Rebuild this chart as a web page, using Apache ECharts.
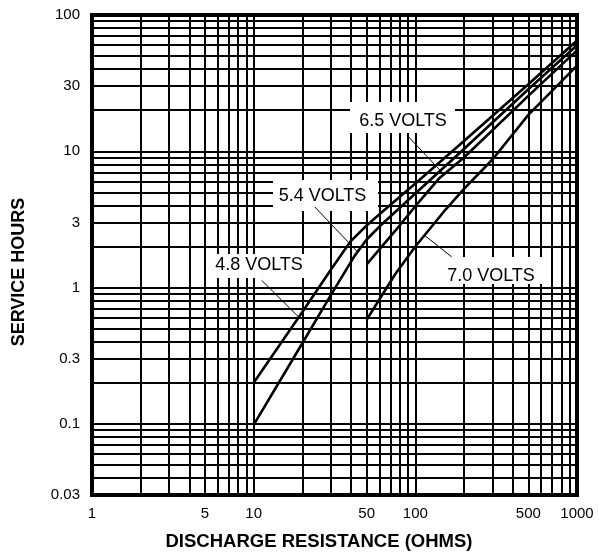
<!DOCTYPE html>
<html><head><meta charset="utf-8">
<script src="https://cdn.jsdelivr.net/npm/echarts@6/dist/echarts.min.js"></script>
<style>html,body{margin:0;padding:0;background:#fff}#c{width:599px;height:553px}</style>
</head><body><div id="c"></div>
<script>
const xTickLabels = [1, 5, 10, 50, 100, 500, 1000];
const yTickLabels = [0.03, 0.1, 0.3, 1, 3, 10, 30, 100];
const xGridValues = [1,2,3,4,5,6,7,8,9,10,20,30,40,50,60,70,80,90,100,200,300,400,500,600,700,800,900,1000];
const yGridValues = [0.03,0.04,0.05,0.06,0.07,0.08,0.09,0.1,0.2,0.3,0.4,0.5,0.6,0.7,0.8,0.9,1,2,3,4,5,6,7,8,9,10,20,30,40,50,60,70,80,90,100];

const seriesNames = ['4.8 VOLTS', '5.4 VOLTS', '6.5 VOLTS', '7.0 VOLTS'];
const r48 = [10, 20, 30, 40, 50, 60, 100, 200, 500, 1000];
const h48 = [0.2, 0.66, 1.35, 2.2, 2.85, 3.45, 5.8, 11.9, 31, 65];
const r54 = [10, 20, 30, 42, 50, 60, 100, 170, 500, 1000];
const h54 = [0.098, 0.39, 0.88, 1.7, 2.25, 2.8, 4.9, 8.7, 28.5, 60];
const r65 = [50, 75, 100, 140, 200, 500, 1000];
const h65 = [1.48, 2.6, 3.95, 6.3, 9.0, 25.5, 55];
const r70 = [50, 75, 100, 150, 200, 300, 500, 1000];
const h70 = [0.58, 1.25, 2.0, 3.6, 5.3, 8.7, 18.5, 42.5];

// annotation arrows: [from, to] in data coordinates
const arrows = [
  [[11.2, 1.13], [18.9, 0.61]],
  [[23.9, 3.9], [43.4, 1.85]],
  [[88.4, 13.2], [148, 6.9]],
  [[167.7, 1.68], [114.7, 2.4]]
];

const FONT = "'Liberation Sans', Arial, Helvetica, sans-serif";
const fmt = v => String(+Number(v).toPrecision(4));

function zip(r, h) { return r.map((x, i) => [x, h[i]]); }
const allR = [r48, r54, r65, r70];
const allH = [h48, h54, h65, h70];

const chart = echarts.init(document.getElementById('c'), null, {renderer: 'canvas'});

const series = seriesNames.map((name, i) => ({
  name: name,
  type: 'line',
  data: zip(allR[i], allH[i]),
  showSymbol: false,
  symbol: 'none',
  smooth: false,
  lineStyle: {color: '#000', width: 2.6},
  z: 5,
  markLine: {
    silent: true,
    animation: false,
    symbol: ['none', 'arrow'],
    symbolSize: [0, 7],
    label: {show: false},
    lineStyle: {color: '#000', width: 1, type: 'solid'},
    data: [[{coord: arrows[i][0]}, {coord: arrows[i][1]}]]
  }
}));

function box(x, y, w, h, tx, ty, text) {
  return [
    {type: 'rect', shape: {x: x, y: y, width: w, height: h}, style: {fill: '#fff'}, z: 3, silent: true},
    {type: 'text', x: tx, y: ty, z: 4, silent: true,
     style: {text: text, font: '18px ' + FONT, fill: '#000', textAlign: 'center', textVerticalAlign: 'middle', align: 'center', verticalAlign: 'middle'}}
  ];
}

chart.setOption({
  animation: false,
  backgroundColor: '#fff',
  grid: {left: 92, right: 22, top: 15, bottom: 58, show: true, borderColor: '#000', borderWidth: 4, containLabel: false},
  xAxis: {
    type: 'log', logBase: 10, min: 1, max: 1000,
    axisLine: {show: false},
    axisTick: {show: false, customValues: xGridValues},
    axisLabel: {customValues: xTickLabels, formatter: fmt, fontSize: 15, color: '#000', fontFamily: FONT, margin: 11},
    splitLine: {show: true, lineStyle: {color: '#000', width: 2}},
    minorSplitLine: {show: false}
  },
  yAxis: {
    type: 'log', logBase: 10, min: 0.03, max: 100,
    axisLine: {show: false},
    axisTick: {show: false, customValues: yGridValues},
    axisLabel: {customValues: yTickLabels, formatter: fmt, fontSize: 15, color: '#000', fontFamily: FONT, margin: 12},
    splitLine: {show: true, lineStyle: {color: '#000', width: 2}},
    minorSplitLine: {show: false}
  },
  series: series,
  graphic: [].concat(
    box(210, 254, 100, 24, 259, 265, seriesNames[0]),
    box(273, 180, 105, 31, 322.5, 196, seriesNames[1]),
    box(350, 102, 105, 31, 403, 121, seriesNames[2]),
    box(440, 257, 104, 27, 491, 276.5, seriesNames[3]),
    [
      {type: 'text', x: 319, y: 542, silent: true,
       style: {text: 'DISCHARGE RESISTANCE (OHMS)', font: 'bold 18.5px ' + FONT, fill: '#000', textAlign: 'center', textVerticalAlign: 'middle', align: 'center', verticalAlign: 'middle'}},
      {type: 'text', x: 19, y: 272, rotation: Math.PI / 2, silent: true,
       style: {text: 'SERVICE HOURS', font: 'bold 18px ' + FONT, fill: '#000', textAlign: 'center', textVerticalAlign: 'middle', align: 'center', verticalAlign: 'middle'}}
    ]
  )
});
</script>
</body></html>
